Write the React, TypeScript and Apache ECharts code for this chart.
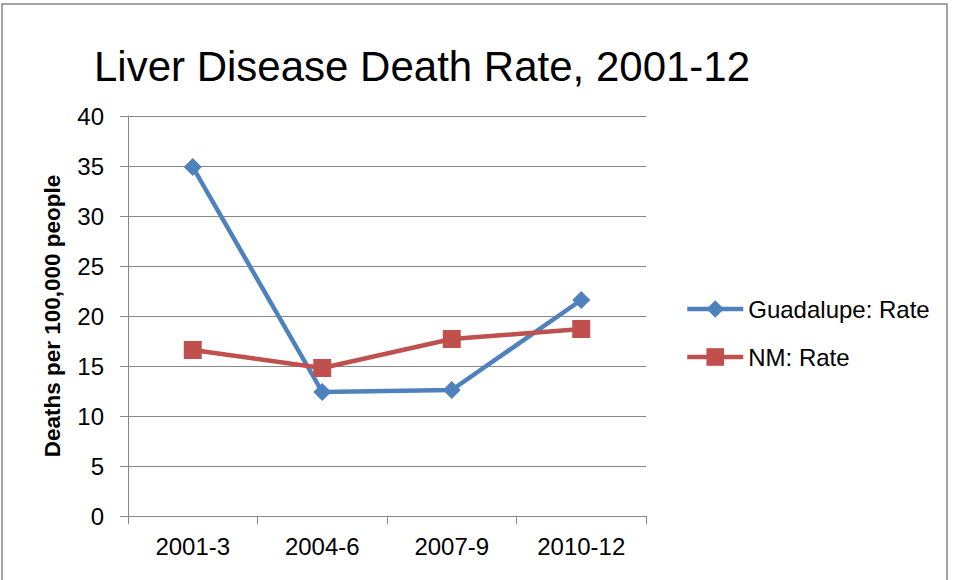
import React, { useEffect, useRef } from "react";
import * as echarts from "echarts";

const categories = ["2001-3", "2004-6", "2007-9", "2010-12"];
const guadalupeRate = [34.9, 12.4, 12.6, 21.6];
const nmRate = [16.6, 14.8, 17.7, 18.7];
const seriesNames = ["Guadalupe: Rate", "NM: Rate"];
const titleText = "Liver Disease Death Rate, 2001-12";
const yAxisTitle = "Deaths per 100,000 people";

const FONT = "'Liberation Sans', Arial, sans-serif";
const GRAY = "#868686";

export default function App() {
  const ref = useRef<HTMLDivElement>(null);
  useEffect(() => {
    if (!ref.current) return;
    const chart = echarts.init(ref.current, undefined, { renderer: "svg" });
    chart.setOption({
      animation: false,
      backgroundColor: "#ffffff",
      textStyle: { fontFamily: FONT, color: "#000" },
      title: {
        text: titleText,
        left: 89,
        top: 40,
        textStyle: { fontFamily: FONT, fontSize: 42, fontWeight: "normal", color: "#000" },
      },
      graphic: [
        {
          type: "rect",
          shape: { x: 2, y: 4, width: 945, height: 620 },
          style: { fill: "none", stroke: GRAY, lineWidth: 1.5 },
          silent: true,
        },
      ],
      legend: {
        orient: "vertical",
        left: 680,
        top: 292,
        itemWidth: 56,
        itemHeight: 22,
        itemGap: 24,
        lineStyle: { width: 4.5 },
        textStyle: { fontFamily: FONT, fontSize: 24, color: "#000" },
        data: seriesNames,
      },
      grid: { left: 128, right: 308, top: 116, bottom: 64, containLabel: false },
      xAxis: {
        type: "category",
        data: categories,
        boundaryGap: true,
        axisLine: { show: true, lineStyle: { color: GRAY, width: 1 } },
        axisTick: { show: true, length: 8, inside: false, lineStyle: { color: GRAY } },
        axisLabel: { fontFamily: FONT, fontSize: 24, color: "#000", margin: 18 },
        splitLine: { show: false },
      },
      yAxis: {
        type: "value",
        min: 0,
        max: 40,
        interval: 5,
        name: yAxisTitle,
        nameLocation: "middle",
        nameGap: 64,
        nameTextStyle: { fontFamily: FONT, fontSize: 22.5, fontWeight: "bold", color: "#000" },
        axisLine: { show: true, lineStyle: { color: GRAY, width: 1 } },
        axisTick: { show: true, length: 8, inside: false, lineStyle: { color: GRAY } },
        axisLabel: { fontFamily: FONT, fontSize: 24, color: "#000", margin: 24 },
        splitLine: { show: true, lineStyle: { color: GRAY, width: 1 } },
      },
      series: [
        {
          name: seriesNames[0],
          type: "line",
          data: guadalupeRate,
          symbol: "diamond",
          symbolSize: 18,
          lineStyle: { color: "#4F81BD", width: 4.5 },
          itemStyle: { color: "#4F81BD" },
          z: 2,
        },
        {
          name: seriesNames[1],
          type: "line",
          data: nmRate,
          symbol: "rect",
          symbolSize: 18,
          lineStyle: { color: "#C0504D", width: 4.5 },
          itemStyle: { color: "#C0504D" },
          z: 3,
        },
      ],
    });
    return () => chart.dispose();
  }, []);
  return (
    <div
      ref={ref}
      style={{ position: "fixed", left: 0, top: 0, width: 954, height: 580 }}
    />
  );
}
